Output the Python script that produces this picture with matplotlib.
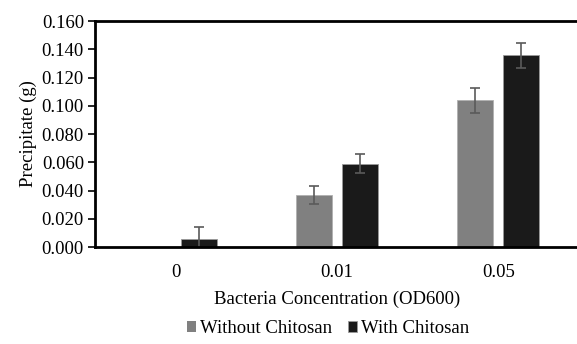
import numpy as np
import matplotlib
matplotlib.use("Agg")
import matplotlib.pyplot as plt

plt.rcParams['font.family'] = ['Liberation Serif', 'DejaVu Serif']

# data
categories = ['0', '0.01', '0.05']
without_chitosan = [0.0, 0.0368, 0.1038]
without_err = [0.0, 0.0064, 0.0090]
with_chitosan = [0.0055, 0.0590, 0.1357]
with_err = [0.0089, 0.0066, 0.0087]

x = np.arange(len(categories))
width = 0.224
offset = 0.143
fs = 13.5

fig = plt.figure(figsize=(5.77, 3.44), dpi=100)
ax = fig.add_axes([95 / 577, 1 - 247 / 344, 484 / 577, 226 / 344])

ax.bar(x - offset, without_chitosan, width, color='#808080',
       edgecolor='#b0b0b0', linewidth=[0 if v == 0 else 0.6 for v in without_chitosan],
       label='Without Chitosan')
ax.bar(x + offset, with_chitosan, width, color='#1a1a1a',
       edgecolor='#9a9a9a', linewidth=0.6, label='With Chitosan')

err_kw = dict(fmt='none', ecolor='#5a5a5a', elinewidth=1.2, capsize=3.5, capthick=1.2)
for xs, vals, errs in [(x - offset, without_chitosan, without_err),
                       (x + offset, with_chitosan, with_err)]:
    keep = [i for i, v in enumerate(vals) if v > 0]
    ax.errorbar([xs[i] for i in keep], [vals[i] for i in keep],
                yerr=[errs[i] for i in keep], **err_kw)

ax.set_xlim(-0.5, 2.5)
ax.set_ylim(0, 0.16)
yt = np.arange(0, 0.161, 0.02)
ax.set_yticks(yt)
ax.set_yticklabels(['%.3f' % v for v in yt])
ax.set_xticks(x)
ax.set_xticklabels(categories)
ax.tick_params(axis='x', length=0, pad=12, labelsize=fs)
ax.tick_params(axis='y', length=5, width=1.2, labelsize=fs, color='black', pad=3)

ax.spines['right'].set_visible(False)
for s in ['left', 'top', 'bottom']:
    ax.spines[s].set_linewidth(2)
    ax.spines[s].set_color('black')

ax.set_ylabel('Precipitate (g)', fontsize=fs, labelpad=3)
ax.set_xlabel('Bacteria Concentration (OD600)', fontsize=fs, labelpad=7)

ax.legend(loc='center', bbox_to_anchor=(0.481, -0.36), ncol=2, frameon=False,
          fontsize=fs, handlelength=0.5, handleheight=0.5, handletextpad=0.2,
          columnspacing=0.85)

fig.savefig('out.png', dpi=100)
